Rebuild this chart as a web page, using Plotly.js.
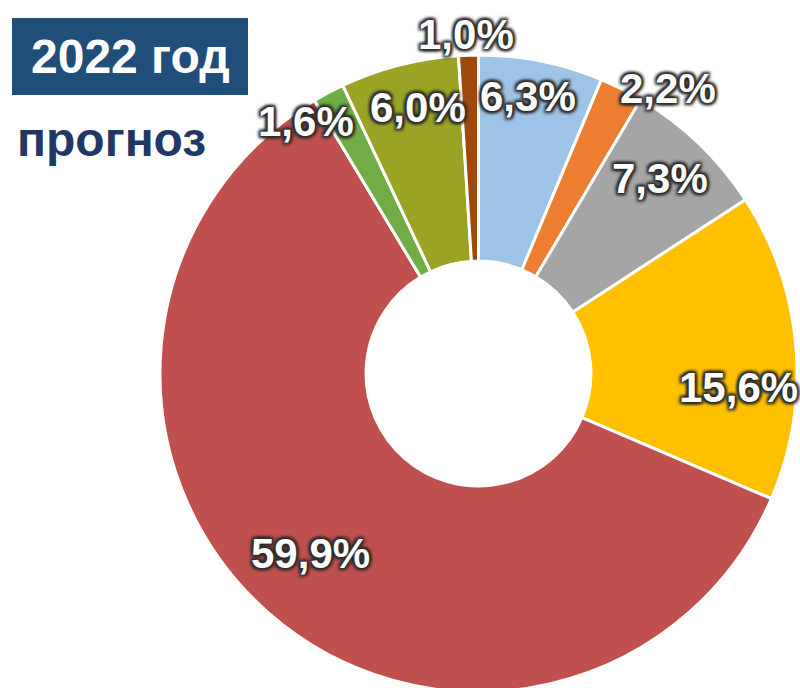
<!DOCTYPE html>
<html>
<head>
<meta charset="utf-8">
<script src="https://cdn.plot.ly/plotly-3.0.1.min.js"></script>
<style>
html,body{margin:0;padding:0;overflow:hidden;background:#fff;}
#chart{width:800px;height:700px;}
</style>
</head>
<body>
<div id="chart"></div>
<script>
var categories = ["A", "B", "C", "D", "E", "F", "G", "H"];
var values = [6.3, 2.2, 7.3, 15.6, 59.9, 1.6, 6.0, 1.0];
var colors = ["#9DC3E6", "#ED7D31", "#A5A5A5", "#FFC000", "#C0504D", "#70AD47", "#9BA325", "#9E480E"];
var titleText = "2022 год";
var subtitleText = "прогноз";

// label placement (style): radial factor of outer radius and angular nudge (degrees) from the slice middle
var labelRadius = [0.882, 1.076, 0.838, 0.816, 0.773, 0.958, 0.855, 1.064];
var labelShift = [-1.2, 7.0, -0.8, 8.0, 2.1, -6.3, 1.6, -0.3];

var FONT = "Liberation Sans, Arial, sans-serif";
var SHADOW = "0px 0px 2px #2e2e2e, 2px 2px 3px #2e2e2e, -2px -2px 3px #2e2e2e, 2px -2px 3px #2e2e2e, -2px 2px 3px #2e2e2e, 0px 0px 4px #2e2e2e";

var trace = {
  type: "pie",
  labels: categories,
  values: values,
  sort: false,
  direction: "clockwise",
  rotation: 0,
  hole: 0.353,
  marker: {colors: colors, line: {color: "#ffffff", width: 3}},
  textinfo: "none",
  showlegend: false,
  hoverinfo: "none"
};

var W = 800, H = 700, ml = 160, mr = 3, mt = 55, mb = 8;
var pw = W - ml - mr, ph = H - mt - mb;
function px2x(p) { return (p - ml) / pw; }
function py2y(p) { return 1 - (p - mt) / ph; }

var total = values.reduce(function (a, b) { return a + b; }, 0);
var annotations = [];
var cum = 0;
for (var i = 0; i < values.length; i++) {
  var mid = (cum + values[i] / 2) / total * 360 + labelShift[i];
  cum += values[i];
  var th = mid * Math.PI / 180;
  annotations.push({
    xref: "paper", yref: "paper",
    x: 0.5 + labelRadius[i] * 0.5 * Math.sin(th),
    y: 0.5 + labelRadius[i] * 0.5 * Math.cos(th),
    xanchor: "center", yanchor: "middle",
    text: "<b>" + values[i].toFixed(1).replace(".", ",") + "%</b>",
    showarrow: false,
    font: {family: FONT, size: 42, color: "#ffffff", shadow: SHADOW}
  });
}
annotations.push({
  xref: "paper", yref: "paper", x: px2x(130), y: py2y(56), xanchor: "center", yanchor: "middle",
  text: "<b>" + titleText + "</b>", showarrow: false,
  font: {family: FONT, size: 48, color: "#ffffff"}
});
annotations.push({
  xref: "paper", yref: "paper", x: px2x(15), y: py2y(139), xanchor: "left", yanchor: "middle",
  text: "<b>" + subtitleText + "</b>", showarrow: false,
  font: {family: FONT, size: 48, color: "#1F3864"}
});

var layout = {
  width: W,
  height: H,
  margin: {l: ml, r: mr, t: mt, b: mb},
  paper_bgcolor: "#ffffff",
  showlegend: false,
  shapes: [{
    type: "rect", xref: "paper", yref: "paper",
    x0: px2x(12), x1: px2x(248), y0: py2y(95), y1: py2y(18),
    fillcolor: "#1F4E79", line: {width: 0}, layer: "below"
  }],
  annotations: annotations
};

Plotly.newPlot("chart", [trace], layout, {displayModeBar: false, staticPlot: true});
</script>
</body>
</html>
